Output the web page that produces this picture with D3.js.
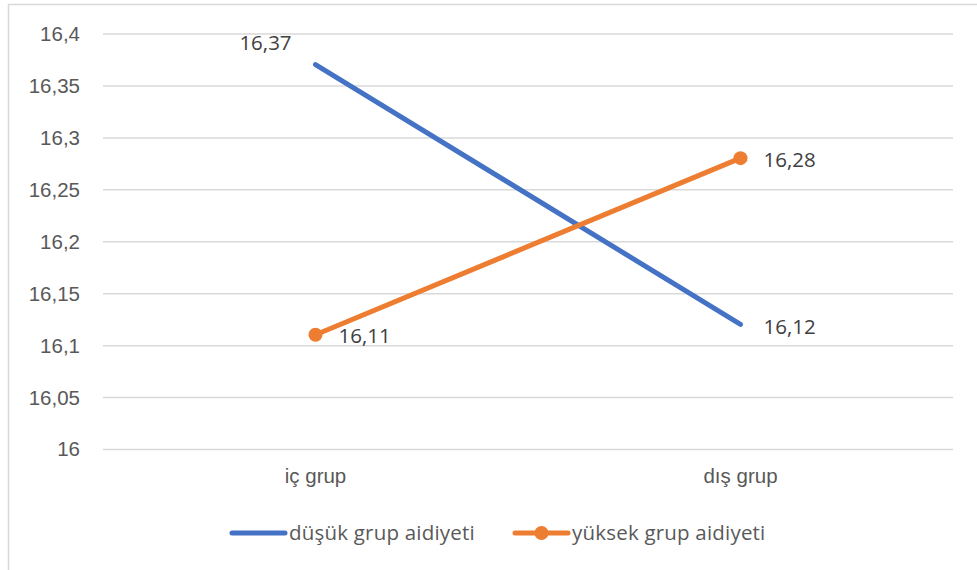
<!DOCTYPE html>
<html>
<head>
<meta charset="utf-8">
<script src="https://cdn.jsdelivr.net/npm/d3@7"></script>
<style>
  html, body { margin: 0; padding: 0; background: #fff; }
  svg { display: block; font-family: "Open Sans", "Noto Sans", sans-serif; }
</style>
</head>
<body>
<svg id="chart" width="977" height="570"></svg>
<script>
const categories = ["iç grup", "dış grup"];
const seriesNames = ["düşük grup aidiyeti", "yüksek grup aidiyeti"];
const lowValues = [16.37, 16.12];
const highValues = [16.11, 16.28];
const yTicks = [16, 16.05, 16.1, 16.15, 16.2, 16.25, 16.3, 16.35, 16.4];
const colors = ["#4472C4", "#ED7D31"];

const svg = d3.select("#chart");
const W = 977, H = 570;
const plot = { left: 103, right: 953, top: 33.5, bottom: 449 };
const FS = "20.5px";

const fmt = v => d3.format("")(+v.toFixed(2)).replace(".", ",");

// outer border
svg.append("rect")
  .attr("x", 8.5).attr("y", 4.5)
  .attr("width", W + 10).attr("height", H + 10)
  .attr("fill", "none").attr("stroke", "#D9D9D9").attr("stroke-width", 1.5);

const x = d3.scaleBand().domain(categories).range([plot.left, plot.right]);
const y = d3.scaleLinear().domain([16, 16.4]).range([plot.bottom, plot.top]);

// gridlines + y labels
const yAxis = d3.axisLeft(y).tickValues(yTicks).tickSize(-(plot.right - plot.left)).tickPadding(23).tickFormat(fmt);
const gy = svg.append("g").attr("transform", `translate(${plot.left},0)`).call(yAxis);
gy.select(".domain").remove();
gy.selectAll(".tick line").attr("stroke", "#D9D9D9").attr("stroke-width", 1.5);
gy.selectAll(".tick text").attr("fill", "#595959").style("font-size", FS).attr("dy", "0.34em");

// x axis labels
const xAxis = d3.axisBottom(x).tickSize(0).tickPadding(19);
const gx = svg.append("g").attr("transform", `translate(0,${plot.bottom})`).call(xAxis);
gx.select(".domain").remove();
gx.selectAll(".tick text").attr("fill", "#595959").style("font-size", FS);

const cx = c => x(c) + x.bandwidth() / 2;

const series = [
  { name: seriesNames[0], values: lowValues, color: colors[0], marker: false,
    labelPos: [{dx: -50, dy: -22}, {dx: 23, dy: 2}] },
  { name: seriesNames[1], values: highValues, color: colors[1], marker: true,
    labelPos: [{dx: 23, dy: 1}, {dx: 23, dy: 2}] }
];

const line = d3.line().x((d, i) => cx(categories[i])).y(d => y(d));

series.forEach(s => {
  svg.append("path").datum(s.values)
    .attr("d", line)
    .attr("fill", "none").attr("stroke", s.color)
    .attr("stroke-width", 5).attr("stroke-linecap", "round");
  if (s.marker) {
    svg.selectAll(null).data(s.values).enter().append("circle")
      .attr("cx", (d, i) => cx(categories[i])).attr("cy", d => y(d))
      .attr("r", 7).attr("fill", s.color);
  }
  svg.selectAll(null).data(s.values).enter().append("text")
    .attr("x", (d, i) => cx(categories[i]) + s.labelPos[i].dx)
    .attr("y", (d, i) => y(d) + s.labelPos[i].dy)
    .attr("dy", "0.35em")
    .attr("text-anchor", (d, i) => s.labelPos[i].dx < 0 ? "middle" : "start")
    .attr("fill", "#404040").style("font-size", FS)
    .text(d => fmt(d));
});

// legend
const legendY = 533;
const legendItems = [
  { x: 232, s: series[0] },
  { x: 515, s: series[1] }
];
legendItems.forEach(li => {
  const g = svg.append("g");
  g.append("line").attr("x1", li.x).attr("x2", li.x + 53)
    .attr("y1", legendY).attr("y2", legendY)
    .attr("stroke", li.s.color).attr("stroke-width", 5).attr("stroke-linecap", "round");
  if (li.s.marker) {
    g.append("circle").attr("cx", li.x + 26.5).attr("cy", legendY).attr("r", 7).attr("fill", li.s.color);
  }
  g.append("text").attr("x", li.x + 57).attr("y", legendY).attr("dy", "0.35em")
    .attr("fill", "#595959").style("font-size", FS).style("letter-spacing", "0.2px").text(li.s.name);
});
</script>
</body>
</html>
